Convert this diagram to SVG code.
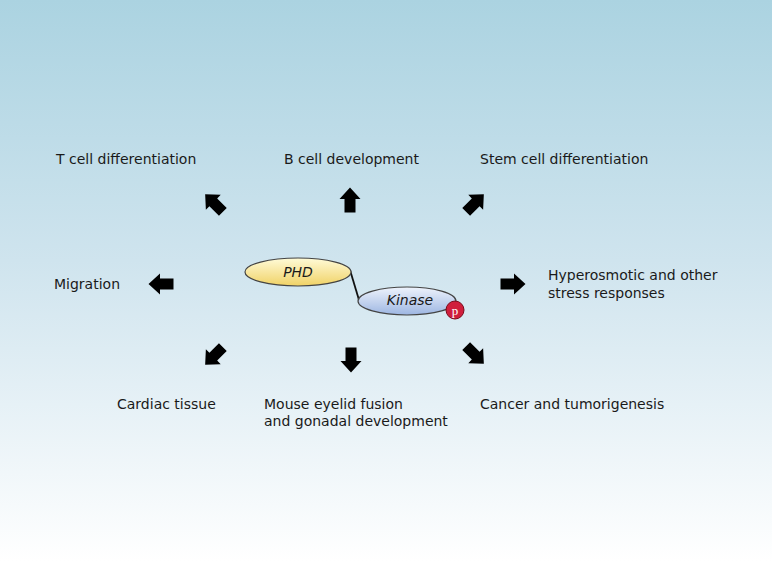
<svg xmlns="http://www.w3.org/2000/svg" width="772" height="579" viewBox="0 0 772 579">
<defs>
<linearGradient id="bg" x1="0" y1="0" x2="0" y2="1">
<stop offset="0" stop-color="#abd3e1"/>
<stop offset="0.45" stop-color="#cfe4ee"/>
<stop offset="0.97" stop-color="#ffffff"/>
</linearGradient>
<linearGradient id="yel" x1="0" y1="0" x2="0" y2="1">
<stop offset="0" stop-color="#fffbd8"/>
<stop offset="1" stop-color="#f0d266"/>
</linearGradient>
<linearGradient id="blu" x1="0" y1="0" x2="0" y2="1">
<stop offset="0" stop-color="#eef3fc"/>
<stop offset="1" stop-color="#9db6e2"/>
</linearGradient>
<path id="arr" d="M0,-12.5 L10.5,-1 L5.5,-1 L5.5,12.5 L-5.5,12.5 L-5.5,-1 L-10.5,-1 Z"/>
<style>
.t{font-family:"DejaVu Sans",sans-serif;font-size:14px;fill:#1a1a1a}
.a{fill:#000}
.e{stroke:#444;stroke-width:1.2}
</style>
</defs>
<rect width="772" height="579" fill="url(#bg)"/>
<g id="connectors">
<use href="#arr" class="a" transform="translate(214,203) rotate(-45)"/>
<use href="#arr" class="a" transform="translate(350,200)"/>
<use href="#arr" class="a" transform="translate(475,203) rotate(45)"/>
<use href="#arr" class="a" transform="translate(161,284) rotate(-90)"/>
<use href="#arr" class="a" transform="translate(513,284) rotate(90)"/>
<use href="#arr" class="a" transform="translate(214,356) rotate(-135)"/>
<use href="#arr" class="a" transform="translate(351,360) rotate(180)"/>
<use href="#arr" class="a" transform="translate(475,355) rotate(135)"/>
<line x1="350" y1="270" x2="359" y2="300" stroke="#111" stroke-width="1.8"/>
</g>
<g id="phd">
<ellipse cx="298" cy="272" rx="53" ry="14" fill="url(#yel)" class="e"/>
<text x="298" y="277" text-anchor="middle" class="t" font-style="italic">PHD</text>
</g>
<g id="kinase">
<ellipse cx="407" cy="301" rx="49" ry="14" fill="url(#blu)" class="e"/>
<text x="410" y="305" text-anchor="middle" class="t" font-style="italic">Kinase</text>
</g>
<g id="p">
<circle cx="455" cy="310" r="9" fill="#d01e3c" stroke="#7a0a1a" stroke-width="1"/>
<text x="455" y="314.5" text-anchor="middle" font-family="Liberation Serif,serif" font-size="13" fill="#fff">p</text>
</g>
<g id="tcell"><text x="56" y="164" class="t">T cell differentiation</text></g>
<g id="bcell"><text x="284" y="164" class="t">B cell development</text></g>
<g id="stem"><text x="480" y="164" class="t">Stem cell differentiation</text></g>
<g id="migration"><text x="54" y="289" class="t">Migration</text></g>
<g id="hyper"><text x="548" y="280" class="t">Hyperosmotic and other</text><text x="548" y="298" class="t">stress responses</text></g>
<g id="cardiac"><text x="117" y="409" class="t">Cardiac tissue</text></g>
<g id="mouse"><text x="264" y="409" class="t">Mouse eyelid fusion</text><text x="264" y="426" class="t">and gonadal development</text></g>
<g id="cancer"><text x="480" y="409" class="t">Cancer and tumorigenesis</text></g>
</svg>
